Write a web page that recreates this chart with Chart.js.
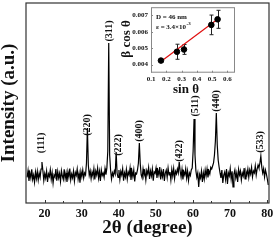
<!DOCTYPE html>
<html>
<head>
<meta charset="utf-8">
<script src="https://cdn.jsdelivr.net/npm/chart.js@4.4.1/dist/chart.umd.min.js"></script>
<style>
  html, body { margin: 0; padding: 0; background: #fff; }
  #wrap { position: relative; width: 279px; height: 241px; }
  #main { position: absolute; left: 0; top: 0; }
  #inset { position: absolute; left: 118px; top: 0; }
</style>
</head>
<body>
<div id="wrap">
  <canvas id="main" width="279" height="241"></canvas>
  <canvas id="inset" width="122" height="100"></canvas>
</div>
<script>
// XRD scan: 2θ from 15.3° in 0.25° steps
const scanStart = 15.3;
const scanStep = 0.25;
const intensity = [
  128, 162, 110, 150, 125, 168, 118, 140, 104, 155,
  122, 158, 115, 150, 128, 170, 205, 162, 112, 148,
  125, 160, 105, 145, 132, 166, 118, 152, 100, 140,
  130, 170, 112, 158, 125, 148, 108, 162, 135, 118,
  168, 122, 150, 105, 157, 130, 172, 115, 145, 126,
  160, 110, 152, 138, 170, 120, 148, 102, 158, 132,
  165, 125, 150, 140, 200, 375, 190, 138, 160, 122,
  155, 135, 172, 118, 160, 140, 175, 125, 158, 110,
  165, 138, 150, 128, 172, 142, 175, 260, 800, 240,
  165, 120, 150, 135, 160, 145, 255, 150, 128, 165,
  118, 158, 140, 172, 112, 150, 130, 168, 120, 155,
  140, 175, 115, 160, 132, 165, 108, 150, 145, 165,
  200, 300, 195, 140, 125, 170, 138, 158, 115, 162,
  145, 178, 120, 160, 135, 170, 112, 155, 148, 175,
  125, 162, 140, 180, 118, 158, 132, 170, 110, 150,
  165, 128, 175, 140, 155, 115, 168, 135, 172, 122,
  158, 145, 170, 150, 205, 160, 130, 168, 118, 155,
  140, 172, 125, 160, 112, 150, 138, 165, 175, 260,
  420, 240, 160, 128, 150, 80, 142, 125, 160, 105,
  150, 120, 165, 135, 170, 128, 160, 145, 178, 170,
  185, 200, 240, 310, 450, 290, 215, 180, 150, 125,
  165, 100, 140, 155, 118, 170, 95, 150, 135, 172,
  120, 158, 80, 145, 165, 125, 150, 105, 168, 140,
  160, 115, 150, 135, 175, 120, 158, 140, 170, 128,
  165, 145, 178, 130, 160, 150, 185, 140, 170, 190,
  175, 200, 235, 180, 150, 172, 130, 165, 145, 120,
  90
];
const scanTheta = intensity.map((_, i) => scanStart + i * scanStep);

const xTickValues = [20, 30, 40, 50, 60, 70, 80];
const xMinorTicks = [25, 35, 45, 55, 65, 75];

// peak indexing labels
const peakNames = ['(111)', '(220)', '(311)', '(222)', '(400)', '(422)', '(511)', '(440)', '(533)'];
const peakLabelTheta = [19.2, 31.6, 37.5, 39.8, 45.5, 56.3, 60.6, 66.4, 78.3];
const peakLabelIntensity = [300, 390, 860, 290, 360, 260, 485, 510, 305];

// Williamson-Hall inset
const sinTheta = [0.165, 0.27, 0.316, 0.495, 0.536];
const betaCosTheta = [0.00424, 0.00478, 0.00492, 0.00642, 0.00676];
const betaError = [0.0001, 0.00046, 0.0003, 0.0006, 0.00055];
const fitX = [0.165, 0.54];
const fitY = [0.00418, 0.0068];
const insetXTicks = [0.1, 0.2, 0.3, 0.4, 0.5, 0.6];
const insetYTicks = [0.004, 0.005, 0.006, 0.007];

const serif = '"Liberation Serif", "Times New Roman", serif';

const mainDecor = {
    id: 'mainDecor',
    afterDraw(chart) {
        const { ctx, chartArea: a, scales: { x, y } } = chart;
        ctx.save();
        ctx.strokeStyle = '#333';
        ctx.lineWidth = 1.2;
        ctx.strokeRect(a.left, a.top, a.right - a.left, a.bottom - a.top);
        // inner ticks on bottom axis
        ctx.lineWidth = 1;
        ctx.beginPath();
        xTickValues.forEach(v => {
            const px = Math.round(x.getPixelForValue(v)) + 0.5;
            ctx.moveTo(px, a.bottom);
            ctx.lineTo(px, a.bottom - 3);
        });
        xMinorTicks.forEach(v => {
            const px = Math.round(x.getPixelForValue(v)) + 0.5;
            ctx.moveTo(px, a.bottom);
            ctx.lineTo(px, a.bottom - 2);
        });
        ctx.stroke();
        // peak labels, rotated
        ctx.fillStyle = '#111';
        ctx.font = 'bold 10px ' + serif;
        ctx.textAlign = 'center';
        ctx.textBaseline = 'middle';
        peakNames.forEach((t, i) => {
            ctx.save();
            ctx.translate(x.getPixelForValue(peakLabelTheta[i]), y.getPixelForValue(peakLabelIntensity[i]));
            ctx.rotate(-Math.PI / 2);
            ctx.fillText(t, 0, 0);
            ctx.restore();
        });
        ctx.restore();
    }
};

new Chart(document.getElementById('main'), {
    type: 'line',
    data: {
        datasets: [{
            data: scanTheta.map((t, i) => ({ x: t, y: intensity[i] })),
            borderColor: '#000',
            borderWidth: 1.2,
            pointRadius: 0,
            tension: 0
        }]
    },
    options: {
        responsive: false,
        animation: false,
        layout: { padding: { top: 3, right: 10, left: 0, bottom: 0 } },
        plugins: { legend: { display: false }, tooltip: { enabled: false } },
        scales: {
            x: {
                type: 'linear',
                min: 15,
                max: 80.5,
                afterBuildTicks: s => { s.ticks = xTickValues.map(v => ({ value: v })); },
                afterFit: s => { s.height = 38; },
                grid: { display: false, drawTicks: false },
                border: { display: false },
                ticks: { color: '#111', padding: 4, maxRotation: 0, autoSkip: false,
                         font: { family: serif, size: 12, weight: 'bold' } },
                title: { display: true, text: '2θ (degree)', color: '#111',
                         font: { family: serif, size: 19, weight: 'bold', lineHeight: 1.2 },
                         padding: { top: 0, bottom: 1.6 } }
            },
            y: {
                min: 0,
                max: 1000,
                afterFit: s => { s.width = 26; },
                ticks: { display: false },
                grid: { display: false, drawTicks: false },
                border: { display: false },
                title: { display: true, text: 'Intensity (a.u.)', color: '#111',
                         font: { family: serif, size: 19, weight: 'bold', lineHeight: 1 },
                         padding: 0 }
            }
        }
    },
    plugins: [mainDecor]
});

const insetDecor = {
    id: 'insetDecor',
    beforeDatasetsDraw(chart) {
        const { ctx, scales: { x, y } } = chart;
        ctx.save();
        ctx.strokeStyle = '#222';
        ctx.lineWidth = 1;
        ctx.beginPath();
        sinTheta.forEach((s, i) => {
            const px = Math.round(x.getPixelForValue(s)) + 0.5;
            const top = y.getPixelForValue(betaCosTheta[i] + betaError[i]);
            const bot = y.getPixelForValue(betaCosTheta[i] - betaError[i]);
            ctx.moveTo(px, top); ctx.lineTo(px, bot);
            ctx.moveTo(px - 2, top); ctx.lineTo(px + 2, top);
            ctx.moveTo(px - 2, bot); ctx.lineTo(px + 2, bot);
        });
        ctx.stroke();
        ctx.restore();
    },
    afterDraw(chart) {
        const { ctx, chartArea: a, scales: { x, y } } = chart;
        ctx.save();
        ctx.strokeStyle = '#888';
        ctx.lineWidth = 1;
        ctx.strokeRect(a.left + 0.5, a.top + 0.5, a.right - a.left - 1, a.bottom - a.top - 1);
        ctx.beginPath();
        insetXTicks.forEach(v => {
            const px = Math.round(x.getPixelForValue(v)) + 0.5;
            ctx.moveTo(px, a.bottom); ctx.lineTo(px, a.bottom - 2);
        });
        insetYTicks.forEach(v => {
            const py = Math.round(y.getPixelForValue(v)) + 0.5;
            ctx.moveTo(a.left, py); ctx.lineTo(a.left + 2, py);
        });
        ctx.stroke();

        ctx.fillStyle = '#111';
        ctx.textBaseline = 'middle';
        ctx.textAlign = 'left';
        ctx.font = 'bold 7px ' + serif;
        const tx = x.getPixelForValue(0.132);
        ctx.fillText('D = 46 nm', tx, y.getPixelForValue(0.00688));
        const ey = y.getPixelForValue(0.00628);
        const eText = 'ε = 3.4×10';
        ctx.fillText(eText, tx, ey);
        const w = ctx.measureText(eText).width;
        ctx.font = 'bold 5px ' + serif;
        ctx.fillText('-3', tx + w + 0.5, ey - 3);

        // axis titles
        ctx.font = 'bold 13px ' + serif;
        ctx.textAlign = 'center';
        ctx.fillText('sin θ', a.left + 35, 90);
        ctx.save();
        ctx.translate(9, (a.top + a.bottom) / 2 - 1);
        ctx.rotate(-Math.PI / 2);
        ctx.fillText('β cos θ', 0, 0);
        ctx.restore();
        ctx.restore();
    }
};

new Chart(document.getElementById('inset'), {
    type: 'scatter',
    data: {
        datasets: [
            {
                data: sinTheta.map((s, i) => ({ x: s, y: betaCosTheta[i] })),
                backgroundColor: '#000',
                borderColor: '#000',
                pointRadius: 2.8,
                showLine: false
            },
            {
                data: fitX.map((s, i) => ({ x: s, y: fitY[i] })),
                borderColor: '#e01010',
                borderWidth: 1.2,
                pointRadius: 0,
                showLine: true
            }
        ]
    },
    options: {
        responsive: false,
        animation: false,
        layout: { padding: { top: 4, right: 4, left: 0, bottom: 0 } },
        plugins: { legend: { display: false }, tooltip: { enabled: false } },
        scales: {
            x: {
                type: 'linear',
                min: 0.1,
                max: 0.65,
                afterBuildTicks: s => { s.ticks = insetXTicks.map(v => ({ value: v })); },
                afterFit: s => { s.height = 27.3; },
                grid: { display: false, drawTicks: false },
                border: { display: false },
                ticks: { color: '#111', padding: 2, maxRotation: 0, autoSkip: false,
                         callback: v => v.toFixed(1),
                         font: { family: serif, size: 7, weight: 'bold' } }
            },
            y: {
                type: 'linear',
                min: 0.0035,
                max: 0.0075,
                afterBuildTicks: s => { s.ticks = insetYTicks.map(v => ({ value: v })); },
                afterFit: s => { s.width = 33; },
                grid: { display: false, drawTicks: false },
                border: { display: false },
                ticks: { color: '#111', padding: 3, autoSkip: false,
                         callback: v => v.toFixed(3),
                         font: { family: serif, size: 7, weight: 'bold' } }
            }
        }
    },
    plugins: [insetDecor]
});
</script>
</body>
</html>
